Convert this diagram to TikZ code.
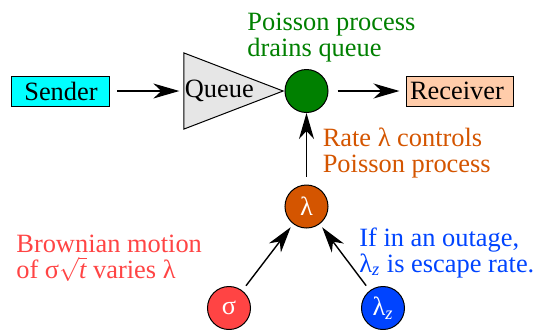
\documentclass[tikz,border=0pt]{standalone}
\usepackage{fontspec}
\setmainfont{Liberation Serif}
\newfontfamily\timesfont{Liberation Serif}
\usepackage{tikz}
\usetikzlibrary{shapes.geometric, arrows.meta}
\newcommand{\bodyfont}{\timesfont\fontsize{13.2pt}{13pt}\selectfont}
\definecolor{senderfill}{RGB}{0,255,255}
\definecolor{recvfill}{RGB}{255,204,170}
\definecolor{queuefill}{RGB}{230,230,230}
\definecolor{drainc}{RGB}{0,128,0}
\definecolor{ratec}{RGB}{212,85,0}
\definecolor{brownc}{RGB}{255,68,68}
\definecolor{escapec}{RGB}{0,68,255}
\tikzstyle{box} = [rectangle, draw=black, line width=0.5pt, minimum
    height=15pt, inner sep=0pt, font=\bodyfont]
\tikzstyle{sendbox} = [box, fill=senderfill, minimum width=49pt]
\tikzstyle{recvbox} = [box, fill=recvfill, text width=49.5pt, inner xsep=2pt,
    align=left]
\tikzstyle{queue} = [isosceles triangle, isosceles triangle apex angle=42,
    shape border rotate=0, draw=black, line width=0.5pt, fill=queuefill,
    inner xsep=0.5pt, inner ysep=0pt, font=\bodyfont]
\tikzstyle{event} = [circle, draw=black, line width=0.5pt, minimum size=21.5pt,
    inner sep=0pt, text=white, font=\bodyfont]
\tikzstyle{note} = [align=left, inner sep=0pt, anchor=base west, font=\bodyfont]
\tikzstyle{arrow} = [line width=0.7pt,-{Stealth[length=13pt, width=7.5pt, inset=4pt]}]

\begin{document}
\begin{tikzpicture}
            \useasboundingbox (0,0) rectangle (268.5pt,-164.5pt);
            % Nodes
            \node[event, fill=drainc] (drain) at (153.25pt,-45.5pt) {};
            \node[sendbox, left of=drain, xshift=-94.3pt] (sender) {Sender};
            \node[queue, anchor=apex] (queue) at (drain.west) {Queue};
            \node[recvbox, right of=drain, xshift=48.05pt] (recv) {Receiver};
            \node[event, fill=ratec, below of=drain, yshift=-29.3pt] (rate) {λ};
            \node[event, fill=brownc, below of=rate, xshift=-38.75pt,
            yshift=-22.3pt] (sigma) {σ};
            \node[event, fill=escapec, below of=rate, xshift=38.25pt,
            yshift=-22.3pt] (escape) {λ\textsubscript{\textit{z}}};
            % Notes (anchored at the baseline of the last line)
            \node[note, text=drainc] (drainnote) at (123.5pt,-28.35pt)
            {Poisson process\\drains queue};
            \node[note, text=ratec] (ratenote) at (161.2pt,-86.35pt)
            {Rate λ controls\\Poisson process};
            \node[note, text=brownc] (brownnote) at (8pt,-139.15pt)
            {Brownian motion\\of σ$\sqrt{\textit{t}}$ varies λ};
            \node[note, text=escapec] (escapenote) at (179.5pt,-136.15pt)
            {If in an outage,\\λ\textsubscript{\textit{z}} is escape rate.};
            % Arrows
            \draw[arrow, shorten <=3.5pt, shorten >=2pt] (sender.east) -- (queue.lower side);
            \draw[arrow, shorten <=4.5pt, shorten >=3pt] (drain) -- (recv);
            \draw[arrow, shorten <=4pt] (rate) -- (drain);
            \draw[arrow, shorten <=3pt, shorten >=2pt] (sigma) -- (rate);
            \draw[arrow, shorten <=3pt, shorten >=2pt] (escape) -- (rate);

        \end{tikzpicture}
\end{document}
